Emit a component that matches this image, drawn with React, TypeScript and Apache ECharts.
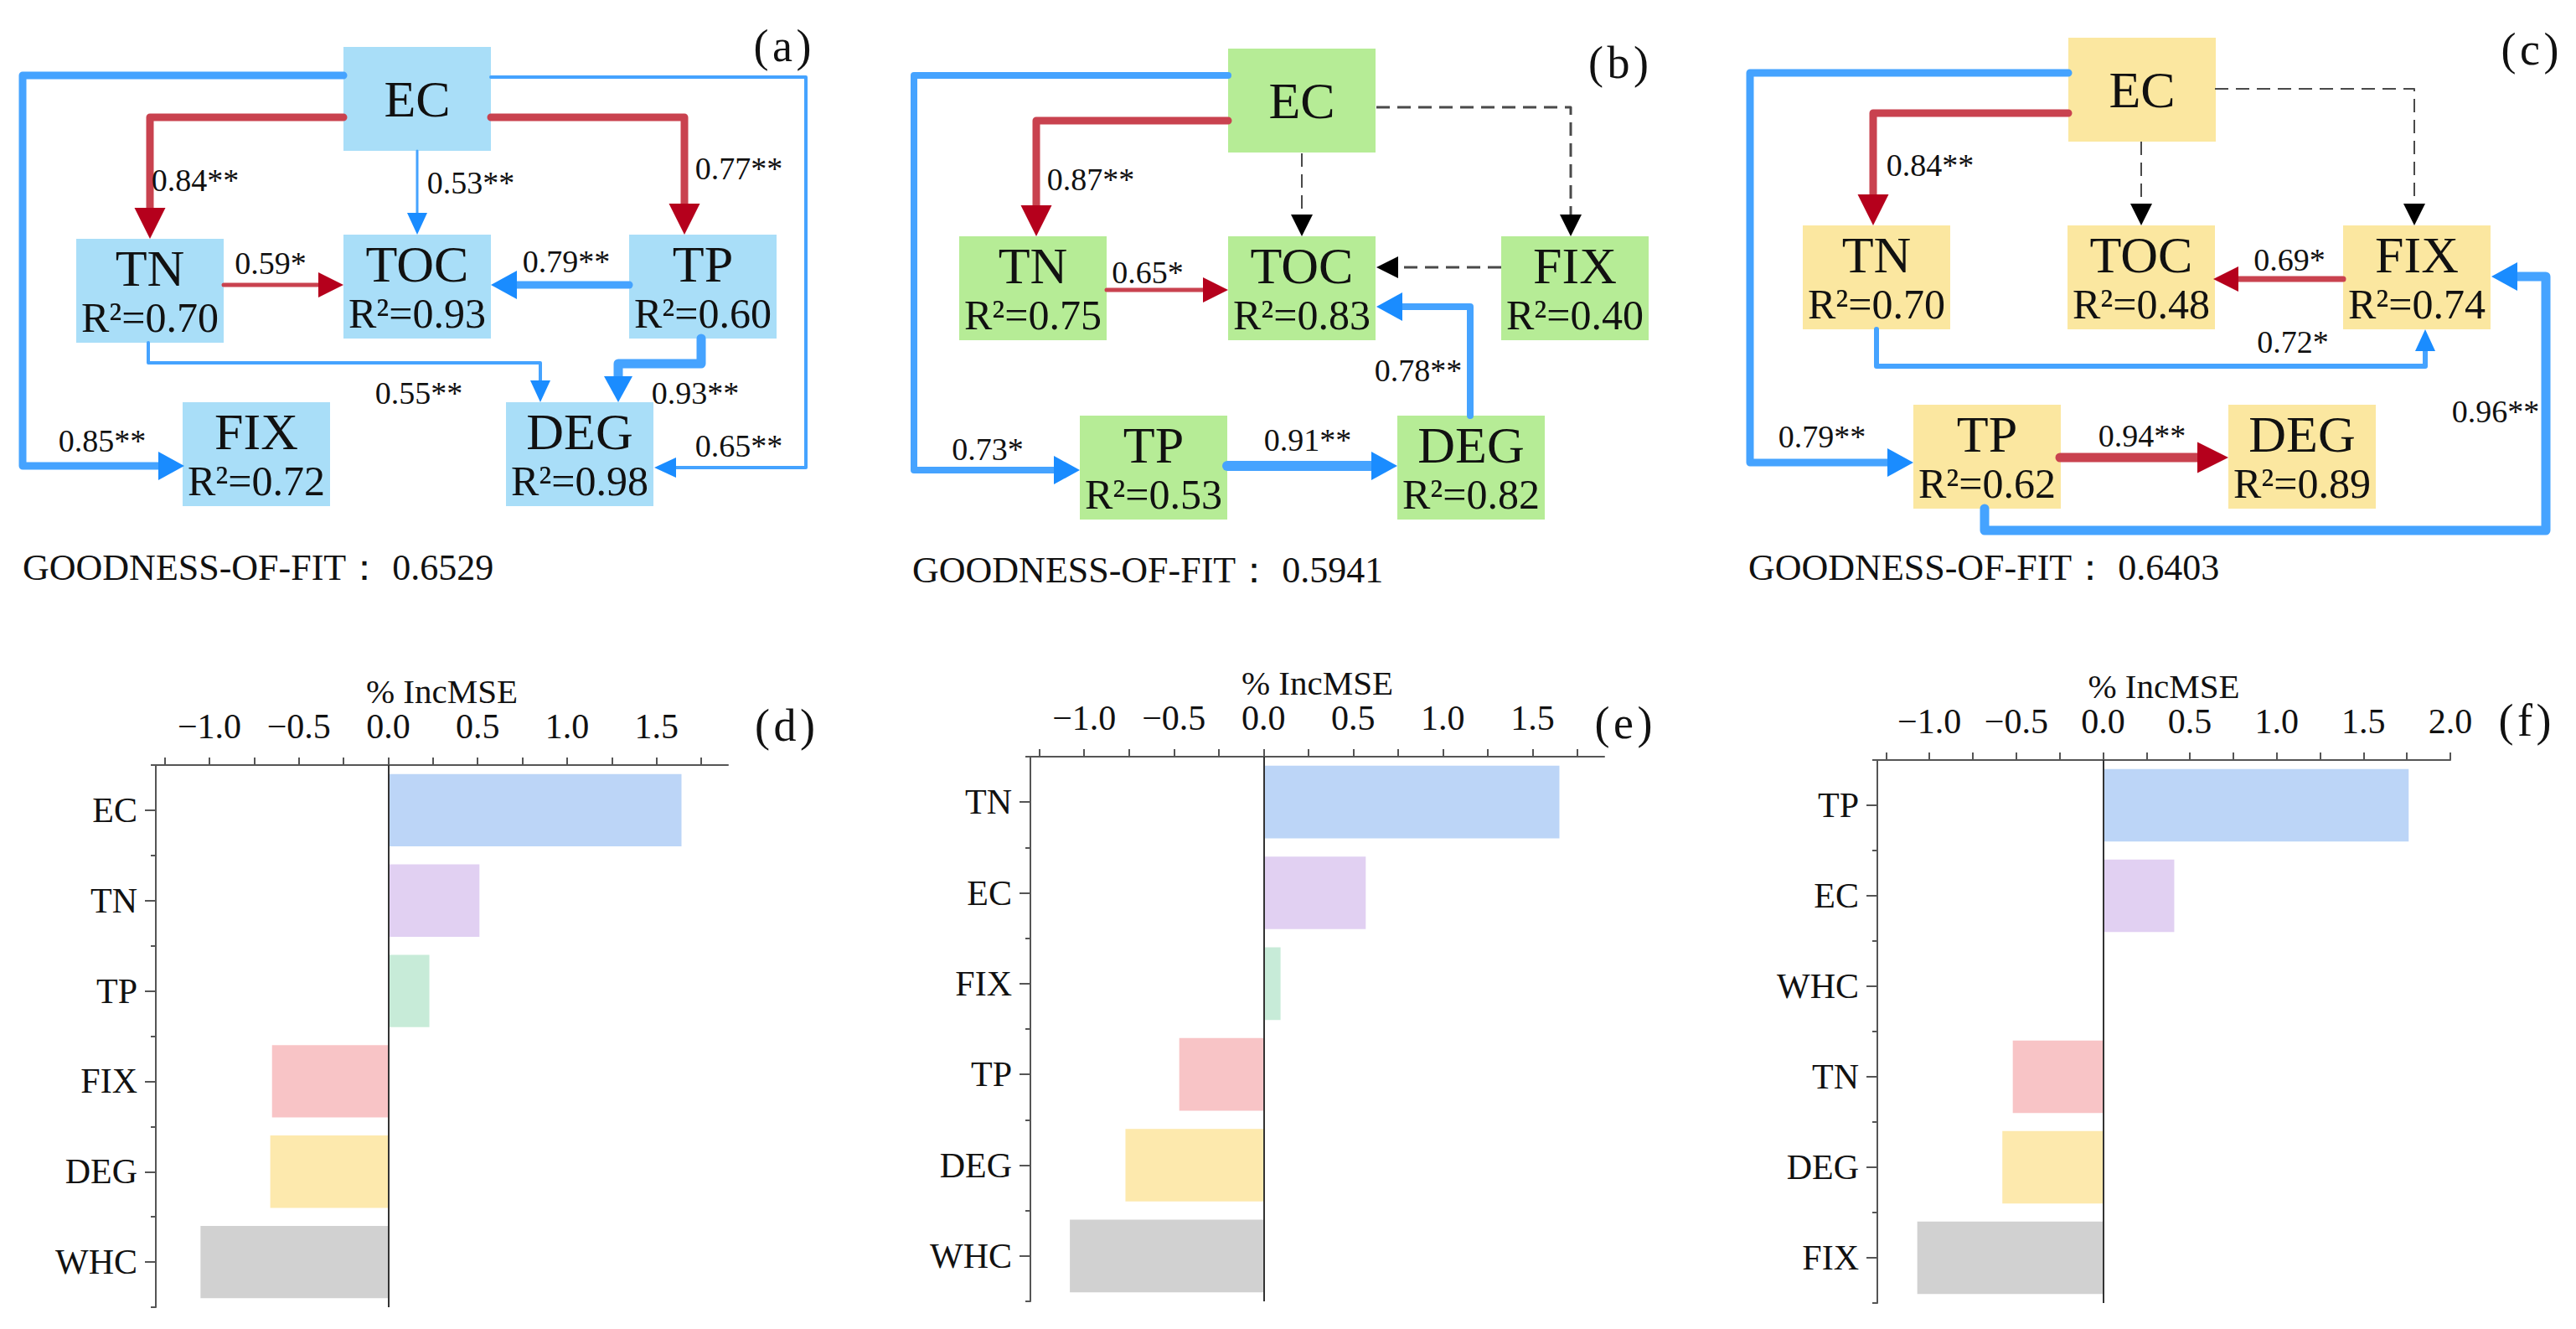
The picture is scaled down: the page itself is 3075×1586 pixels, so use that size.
import React, { useEffect, useRef } from 'react';
import * as echarts from 'echarts';

const FONT = 'Liberation Serif, Times New Roman, serif';

// ---------------- SEM data (values only) ----------------
const semNodes = ['EC', 'TN', 'TOC', 'TP', 'FIX', 'DEG'];
const semR2A = [null, '0.70', '0.93', '0.60', '0.72', '0.98'];
const semR2B = [null, '0.75', '0.83', '0.53', '0.40', '0.82'];
const semR2C = [null, '0.70', '0.48', '0.62', '0.74', '0.89'];

// kind: 'red' = red path, 'blue' = blue path, 'ns' = non-significant (dashed)
const semPathsA = [
  { from: 'EC', to: 'FIX', coef: '0.85**', kind: 'blue' },
  { from: 'EC', to: 'DEG', coef: '0.65**', kind: 'blue' },
  { from: 'EC', to: 'TN', coef: '0.84**', kind: 'red' },
  { from: 'EC', to: 'TP', coef: '0.77**', kind: 'red' },
  { from: 'EC', to: 'TOC', coef: '0.53**', kind: 'blue' },
  { from: 'TN', to: 'TOC', coef: '0.59*', kind: 'red' },
  { from: 'TP', to: 'TOC', coef: '0.79**', kind: 'blue' },
  { from: 'TN', to: 'DEG', coef: '0.55**', kind: 'blue' },
  { from: 'TP', to: 'DEG', coef: '0.93**', kind: 'blue' },
];
const semPathsB = [
  { from: 'EC', to: 'TP', coef: '0.73*', kind: 'blue' },
  { from: 'EC', to: 'TN', coef: '0.87**', kind: 'red' },
  { from: 'EC', to: 'FIX', coef: null, kind: 'ns' },
  { from: 'EC', to: 'TOC', coef: null, kind: 'ns' },
  { from: 'FIX', to: 'TOC', coef: null, kind: 'ns' },
  { from: 'TN', to: 'TOC', coef: '0.65*', kind: 'red' },
  { from: 'DEG', to: 'TOC', coef: '0.78**', kind: 'blue' },
  { from: 'TP', to: 'DEG', coef: '0.91**', kind: 'blue' },
];
const semPathsC = [
  { from: 'EC', to: 'TP', coef: '0.79**', kind: 'blue' },
  { from: 'EC', to: 'TN', coef: '0.84**', kind: 'red' },
  { from: 'EC', to: 'FIX', coef: null, kind: 'ns' },
  { from: 'EC', to: 'TOC', coef: null, kind: 'ns' },
  { from: 'FIX', to: 'TOC', coef: '0.69*', kind: 'red' },
  { from: 'TN', to: 'FIX', coef: '0.72*', kind: 'blue' },
  { from: 'TP', to: 'FIX', coef: '0.96**', kind: 'blue' },
  { from: 'TP', to: 'DEG', coef: '0.94**', kind: 'red' },
];
const gofLabel = 'GOODNESS-OF-FIT：';
const gofValues = ['0.6529', '0.5941', '0.6403'];
const panelLetters = ['a', 'b', 'c', 'd', 'e', 'f'];

// ---------------- Random-forest importance data ----------------
const catsD = ['EC', 'TN', 'TP', 'FIX', 'DEG', 'WHC'];
const valsD = [1.64, 0.51, 0.23, -0.65, -0.66, -1.05];
const catsE = ['TN', 'EC', 'FIX', 'TP', 'DEG', 'WHC'];
const valsE = [1.65, 0.57, 0.095, -0.47, -0.77, -1.08];
const catsF = ['TP', 'EC', 'WHC', 'TN', 'DEG', 'FIX'];
const valsF = [1.76, 0.41, 0.005, -0.52, -0.58, -1.07];
const axisTitle = '% IncMSE';
const tickLabelsDE = [-1, -0.5, 0, 0.5, 1, 1.5];
const tickLabelsF = [-1, -0.5, 0, 0.5, 1, 1.5, 2];
const minorTicksDE = [-1.25, -1, -0.75, -0.5, -0.25, 0, 0.25, 0.5, 0.75, 1, 1.25, 1.5, 1.75];
const minorTicksF = [-1.25, -1, -0.75, -0.5, -0.25, 0, 0.25, 0.5, 0.75, 1, 1.25, 1.5, 1.75, 2];

// ---------------- Layout & style (kept apart from the data) ----------------
const BOX_W = 176;
const BOX_H = 124;
const boxPosA: Record<string, number[]> = { EC: [410, 56], TN: [91, 285], TOC: [410, 280], TP: [751, 280], FIX: [218, 480], DEG: [604, 480] };
const boxPosB: Record<string, number[]> = { EC: [1466, 58], TN: [1145, 282], TOC: [1466, 282], FIX: [1792, 282], TP: [1289, 496], DEG: [1668, 496] };
const boxPosC: Record<string, number[]> = { EC: [2469, 45], TN: [2152, 269], TOC: [2468, 269], FIX: [2797, 269], TP: [2284, 483], DEG: [2660, 483] };

const layoutA = [
  { pts: [[410, 90], [27, 90], [27, 556], [220, 556]], lw: 9, lab: [122, 526] },
  { pts: [[586, 92], [962, 92], [962, 558], [781, 558]], lw: 4, lab: [882, 532] },
  { pts: [[410, 140], [179, 140], [179, 285]], lw: 9, lab: [233, 215] },
  { pts: [[586, 140], [817, 140], [817, 280]], lw: 9, lab: [882, 201] },
  { pts: [[498, 180], [498, 280]], lw: 3, lab: [562, 218] },
  { pts: [[267, 340], [410, 340]], lw: 5, lab: [323, 314] },
  { pts: [[751, 340], [586, 340]], lw: 9, lab: [676, 312] },
  { pts: [[177, 409], [177, 433], [645, 433], [645, 480]], lw: 4, lab: [500, 469] },
  { pts: [[837, 404], [837, 434], [738, 434], [738, 480]], lw: 11, lab: [830, 469] },
];
const layoutB = [
  { pts: [[1466, 90], [1091, 90], [1091, 561], [1289, 561]], lw: 8, lab: [1179, 536] },
  { pts: [[1466, 144], [1237, 144], [1237, 282]], lw: 9, lab: [1302, 214] },
  { pts: [[1643, 128], [1875, 128], [1875, 282]], lw: 3, lab: null },
  { pts: [[1554, 183], [1554, 282]], lw: 2, lab: null },
  { pts: [[1792, 319], [1643, 319]], lw: 3, lab: null },
  { pts: [[1321, 346], [1466, 346]], lw: 5, lab: [1370, 325] },
  { pts: [[1755, 496], [1755, 366], [1643, 366]], lw: 8, lab: [1693, 442] },
  { pts: [[1465, 556], [1668, 556]], lw: 12, lab: [1561, 525] },
];
const layoutC = [
  { pts: [[2469, 87], [2089, 87], [2089, 552], [2284, 552]], lw: 9, lab: [2175, 521] },
  { pts: [[2469, 135], [2236, 135], [2236, 269]], lw: 9, lab: [2304, 197] },
  { pts: [[2644, 106], [2882, 106], [2882, 269]], lw: 2, lab: null },
  { pts: [[2556, 169], [2556, 269]], lw: 2, lab: null },
  { pts: [[2797, 333], [2642, 333]], lw: 7, lab: [2733, 310] },
  { pts: [[2240, 393], [2240, 437], [2895, 437], [2895, 393]], lw: 6, lab: [2737, 408] },
  { pts: [[2369, 607], [2369, 633], [3039, 633], [3039, 330], [2974, 330]], lw: 11, lab: [2979, 491] },
  { pts: [[2459, 546], [2660, 546]], lw: 11, lab: [2557, 520] },
];
const boxColors = ['#A9DEF8', '#B6EC96', '#FBE7A0'];
const gofPos = [[27, 677], [1089, 680], [2087, 677]];
const letterPos = [[934, 55], [1932, 75], [3020, 59], [937, 866], [1938, 863], [3014, 860]];

const LINE_COL: Record<string, string> = { red: '#C9424F', blue: '#45A3FF', ns: '#4A4A4A' };
const HEAD_COL: Record<string, string> = { red: '#B5001C', blue: '#1A8CFF', ns: '#000000' };
const barColors = ['#BCD5F7', '#E1D0F2', '#C7EBD8', '#F8C4C6', '#FDE9AD', '#D1D1D1'];

function headSize(kind: string, lw: number) {
  if (kind === 'ns') return [26, 26];
  if (kind === 'red') return lw >= 8 ? [37, 37] : [30, 30];
  return lw >= 8 ? [31, 34] : [26, 24];
}

const centered = { align: 'center', verticalAlign: 'middle', textAlign: 'center', textVerticalAlign: 'middle' };

function buildSem(nodesR2: (string | null)[], pos: Record<string, number[]>, paths: any[], layout: any[], fill: string) {
  const els: any[] = [];
  semNodes.forEach((name, i) => {
    const p = pos[name];
    els.push({ type: 'rect', z: 1, shape: { x: p[0], y: p[1], width: BOX_W, height: BOX_H }, style: { fill } });
    const r2 = nodesR2[i];
    const cx = p[0] + BOX_W / 2;
    els.push({
      type: 'text', z: 5, x: cx, y: r2 ? p[1] + 35 : p[1] + BOX_H / 2,
      style: { text: name, fontSize: 62, fontFamily: FONT, fill: '#111', ...centered },
    });
    if (r2) {
      els.push({
        type: 'text', z: 5, x: cx, y: p[1] + 94,
        style: { text: 'R²=' + r2, fontSize: 50, fontFamily: FONT, fill: '#111', ...centered },
      });
    }
  });
  paths.forEach((pth, i) => {
    const lay = layout[i];
    const pts = lay.pts.map((q: number[]) => [q[0], q[1]]);
    const tip = pts[pts.length - 1];
    const prev = pts[pts.length - 2];
    const dx = tip[0] - prev[0], dy = tip[1] - prev[1];
    const len = Math.hypot(dx, dy);
    const ux = dx / len, uy = dy / len;
    const [L, Wd] = headSize(pth.kind, lay.lw);
    const linePts = pts.slice();
    linePts[linePts.length - 1] = [tip[0] - ux * L * 0.7, tip[1] - uy * L * 0.7];
    els.push({
      type: 'polyline', z: 2, shape: { points: linePts },
      style: {
        stroke: LINE_COL[pth.kind], lineWidth: lay.lw, fill: null,
        lineDash: pth.kind === 'ns' ? [16, 9] : null, lineJoin: 'round', lineCap: pth.kind === 'ns' ? 'butt' : 'round',
      },
    });
    const bx = tip[0] - ux * L, by = tip[1] - uy * L;
    const px = -uy, py = ux;
    els.push({
      type: 'polygon', z: 3,
      shape: { points: [[tip[0], tip[1]], [bx + px * Wd / 2, by + py * Wd / 2], [bx - px * Wd / 2, by - py * Wd / 2]] },
      style: { fill: HEAD_COL[pth.kind] },
    });
    if (pth.coef && lay.lab) {
      els.push({
        type: 'text', z: 5, x: lay.lab[0], y: lay.lab[1],
        style: { text: pth.coef, fontSize: 38, fontFamily: FONT, fill: '#111', ...centered },
      });
    }
  });
  return els;
}

const fmtTick = (v: number) => (v < 0 ? '−' : '') + Math.abs(v).toFixed(1);

export default function App() {
  const ref = useRef<HTMLDivElement>(null);
  useEffect(() => {
    document.body.style.margin = '0';
    const chart = echarts.init(ref.current!, null, { renderer: 'svg' });

    const elements: any[] = [
      ...buildSem(semR2A, boxPosA, semPathsA, layoutA, boxColors[0]),
      ...buildSem(semR2B, boxPosB, semPathsB, layoutB, boxColors[1]),
      ...buildSem(semR2C, boxPosC, semPathsC, layoutC, boxColors[2]),
    ];
    gofValues.forEach((g, i) => {
      elements.push({
        type: 'text', z: 5, x: gofPos[i][0], y: gofPos[i][1],
        style: { text: gofLabel + ' ' + g, fontSize: 44, fontFamily: FONT, fill: '#111', align: 'left', verticalAlign: 'middle', textAlign: 'left', textVerticalAlign: 'middle' },
      });
    });
    panelLetters.forEach((l, i) => {
      elements.push({
        type: 'text', z: 5, x: letterPos[i][0], y: letterPos[i][1],
        style: { text: '(\u200A' + l + '\u200A)', fontSize: 54, fontFamily: FONT, fill: '#111', ...centered },
      });
    });

    const grids = [
      { left: 186, top: 913, width: 683, height: 647 },
      { left: 1230, top: 903, width: 685, height: 650 },
      { left: 2241, top: 907, width: 684, height: 648 },
    ];
    const cats = [catsD, catsE, catsF];
    const vals = [valsD, valsE, valsF];
    const ranges = [[-1.3, 1.9], [-1.3, 1.9], [-1.3, 2.0]];
    const labelVals = [tickLabelsDE, tickLabelsDE, tickLabelsF];
    const tickVals = [minorTicksDE, minorTicksDE, minorTicksF];
    const axisCol = '#555';

    const xAxis: any[] = [];
    const yAxis: any[] = [];
    const series: any[] = [];
    for (let i = 0; i < 3; i++) {
      xAxis.push({
        gridIndex: i, type: 'value', position: 'top', min: ranges[i][0], max: ranges[i][1],
        axisLine: { show: true, onZero: false, lineStyle: { color: axisCol, width: 2 } },
        axisTick: { show: true, inside: false, length: 9, customValues: tickVals[i], lineStyle: { color: axisCol, width: 2 } },
        axisLabel: { customValues: labelVals[i], formatter: fmtTick, fontSize: 42, fontFamily: FONT, color: '#111', margin: 25 },
        splitLine: { show: false },
        name: axisTitle, nameLocation: 'middle', nameGap: 68,
        nameTextStyle: { fontSize: 41, fontFamily: FONT, color: '#111' },
      });
      yAxis.push({
        gridIndex: i, type: 'category', data: cats[i], inverse: true, position: 'left',
        axisLine: { show: true, onZero: false, lineStyle: { color: axisCol, width: 2 } },
        axisTick: { show: true, alignWithLabel: true, length: 13, lineStyle: { color: axisCol, width: 2 } },
        axisLabel: { fontSize: 42, fontFamily: FONT, color: '#111', margin: 22 },
        splitLine: { show: false },
      });
      yAxis.push({
        gridIndex: i, type: 'category', data: cats[i], inverse: true, position: 'left',
        axisLine: { show: false, onZero: false },
        axisTick: { show: true, alignWithLabel: false, length: 6, lineStyle: { color: axisCol, width: 2 } },
        axisLabel: { show: false },
        splitLine: { show: false },
      });
      series.push({
        type: 'bar', xAxisIndex: i, yAxisIndex: i * 2, barWidth: '80%',
        data: vals[i].map((v, k) => ({ value: v, itemStyle: { color: barColors[k] } })),
        markLine: {
          silent: true, symbol: ['none', 'none'], label: { show: false },
          lineStyle: { color: '#333', width: 2, type: 'solid' },
          data: [{ xAxis: 0 }],
        },
      });
    }

    chart.setOption({
      animation: false,
      backgroundColor: '#ffffff',
      grid: grids,
      xAxis,
      yAxis,
      series,
      graphic: { elements },
    });
    return () => chart.dispose();
  }, []);
  return <div ref={ref} style={{ width: 3075, height: 1586 }} />;
}
